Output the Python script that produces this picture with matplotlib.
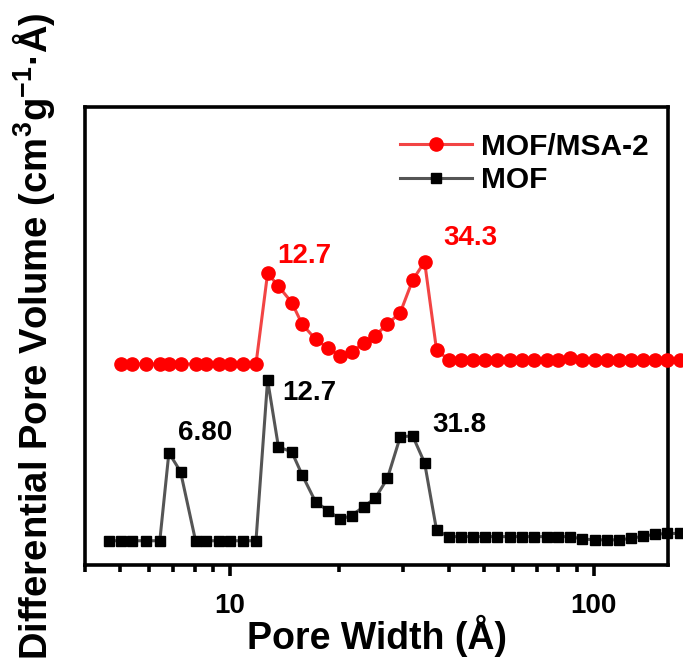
import matplotlib.pyplot as plt

plt.rcParams["font.family"] = ["Liberation Sans", "DejaVu Sans"]
plt.rcParams["font.weight"] = "bold"
plt.rcParams["mathtext.fontset"] = "custom"
plt.rcParams["mathtext.rm"] = "Liberation Sans:bold"
plt.rcParams["mathtext.bf"] = "Liberation Sans:bold"
plt.rcParams["mathtext.default"] = "bf"

# --------------------
# pore width grid (Å)
width_msa = [5.01, 5.37, 5.90, 6.42, 6.80, 7.32, 8.05, 8.59, 9.33, 10.0, 10.9, 11.8,
             12.7, 13.6, 14.8, 15.8, 17.2, 18.6, 20.1, 21.6, 23.3, 25.1, 27.1, 29.4,
             31.8, 34.3, 37.0, 40.0, 43.1, 46.6, 50.4, 54.2, 58.8, 63.5, 68.4, 74.2,
             79.8, 86.1, 92.9, 100.6, 108.6, 117.1, 126.4, 136.6, 147.1, 159.4, 172.3]
width_mof = [4.66] + width_msa

# differential pore volume (arbitrary, MOF/MSA-2 shifted up)
dv_msa = [0.439, 0.439, 0.439, 0.439, 0.439, 0.439, 0.439, 0.439, 0.439, 0.439, 0.439, 0.439,
          0.637, 0.609, 0.573, 0.526, 0.493, 0.474, 0.457, 0.466, 0.484, 0.501, 0.526, 0.551,
          0.622, 0.662, 0.469, 0.448, 0.448, 0.448, 0.448, 0.448, 0.448, 0.448, 0.448, 0.448,
          0.448, 0.452, 0.448, 0.448, 0.448, 0.448, 0.448, 0.448, 0.448, 0.448, 0.448]
dv_mof = [0.053, 0.053, 0.053, 0.053, 0.053, 0.245, 0.204, 0.053, 0.053, 0.053, 0.053, 0.053,
          0.053, 0.404, 0.258, 0.247, 0.197, 0.138, 0.119, 0.100, 0.108, 0.127, 0.146, 0.189,
          0.280, 0.282, 0.223, 0.076, 0.062, 0.062, 0.062, 0.062, 0.062, 0.062, 0.062, 0.062,
          0.062, 0.062, 0.062, 0.057, 0.055, 0.055, 0.055, 0.058, 0.063, 0.067, 0.069, 0.069]

# peak labels: (text, x, y, colour)
peaks = [("12.7", 13.5, 0.675, "#ff0000"),
         ("34.3", 38.5, 0.715, "#ff0000"),
         ("6.80", 7.2, 0.288, "black"),
         ("12.7", 13.9, 0.375, "black"),
         ("31.8", 36.0, 0.305, "black")]

# --------------------

fig = plt.figure(figsize = (6.83, 6.59), dpi = 100)
ax = fig.add_axes([0.1245, 0.1426, 0.8535, 0.695])

ax.plot(width_msa, dv_msa, color = "#f24444", linewidth = 2.2, marker = "o",
        markersize = 9.5, markerfacecolor = "#ff0000", markeredgecolor = "#ff0000",
        label = "MOF/MSA-2", clip_on = False, zorder = 3)
ax.plot(width_mof, dv_mof, color = "#555555", linewidth = 2.2, marker = "s",
        markersize = 7.5, markerfacecolor = "black", markeredgecolor = "black",
        label = "MOF", clip_on = False, zorder = 3)

for txt, x, y, c in peaks:
    ax.text(x, y, txt, color = c, fontsize = 20, fontweight = "bold", va = "center")

ax.set_xscale("log")
ax.set_xlim(4.0, 160)
ax.set_ylim(0, 1)
ax.set_yticks([])
ax.set_xticks([10, 100])
ax.set_xticklabels(["10", "100"])

for s in ax.spines.values():
    s.set_linewidth(2.6)
ax.tick_params(axis = "x", which = "major", length = 8, width = 2.6, labelsize = 20, pad = 12)
ax.tick_params(axis = "x", which = "minor", length = 5, width = 2.6, labelbottom = False)

ax.set_xlabel("Pore Width (Å)", fontsize = 27, fontweight = "bold", labelpad = -3)
ax.set_ylabel("Differential Pore Volume (cm$^3$g$^{-1}$·Å)", fontsize = 27.5,
              fontweight = "bold", labelpad = 20)

ax.legend(loc = "upper right", frameon = False, fontsize = 21.5, handlelength = 2.4,
          borderaxespad = 0.3, labelspacing = 0.2, handletextpad = 0.3,
          bbox_to_anchor = (1.003, 0.99))

plt.savefig("out.png", dpi = 100)
